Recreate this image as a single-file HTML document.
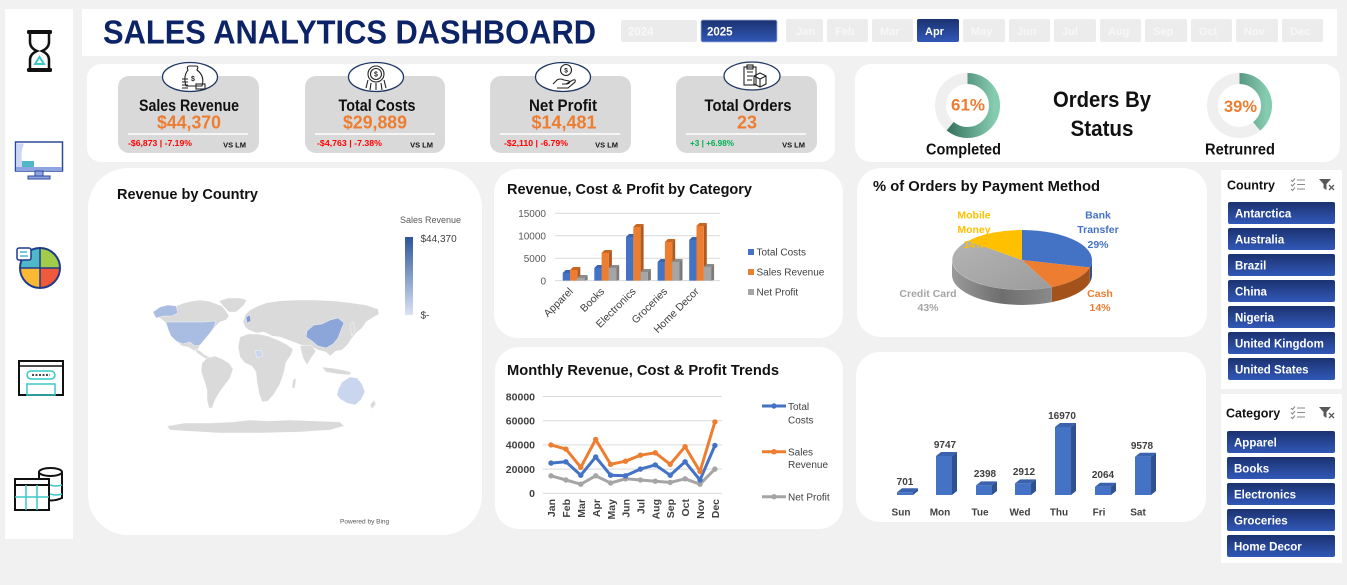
<!DOCTYPE html>
<html><head><meta charset="utf-8"><style>
html,body{margin:0;padding:0;background:#f1f1f1;}
svg{display:block;font-family:"Liberation Sans",Arial,sans-serif;}
</style></head><body>
<svg width="1347" height="585" viewBox="0 0 1347 585" xmlns="http://www.w3.org/2000/svg">
<defs>
<linearGradient id="navy" x1="0" y1="0" x2="0" y2="1"><stop offset="0" stop-color="#1b3270"/><stop offset="1" stop-color="#3158b8"/></linearGradient>
<linearGradient id="dg" x1="0" y1="0" x2="0" y2="1"><stop offset="0" stop-color="#2a6552"/><stop offset="1" stop-color="#86ccb1"/></linearGradient>
<linearGradient id="lg" x1="0" y1="0" x2="0" y2="1"><stop offset="0" stop-color="#2f5597"/><stop offset="1" stop-color="#dae3f3"/></linearGradient>
<linearGradient id="gs" x1="0" y1="0" x2="1" y2="0"><stop offset="0" stop-color="#9a9a9a"/><stop offset="0.5" stop-color="#6e6e6e"/><stop offset="1" stop-color="#8a8a8a"/></linearGradient>
<linearGradient id="gt" x1="0" y1="0" x2="1" y2="1"><stop offset="0" stop-color="#b4b4b4"/><stop offset="1" stop-color="#9c9c9c"/></linearGradient>
</defs>
<rect width="1347" height="585" fill="#f1f1f1"/>

<!-- sidebar -->
<rect x="5" y="9" width="68" height="530" fill="#fff"/>
<!-- hourglass -->
<rect x="27" y="30" width="25" height="4" rx="1.5" fill="#111"/>
<rect x="27" y="68" width="25" height="4" rx="1.5" fill="#111"/>
<path d="M30,34 L30,42 Q30,48 37,51 Q30,54 30,60 L30,68 M49,34 L49,42 Q49,48 42,51 Q49,54 49,60 L49,68" fill="none" stroke="#111" stroke-width="2.5"/>
<path d="M35,64 L39.5,57 L44,64 Z" fill="none" stroke="#3cc8c8" stroke-width="2"/>
<!-- monitor -->
<rect x="15.5" y="142" width="47" height="29" fill="#fff" stroke="#2b4a9b" stroke-width="1.5"/>
<path d="M17,143.5 L24,143.5 Q19,155 24,169.5 L17,169.5 Z" fill="#c9d6f5"/>
<rect x="22" y="161" width="12" height="8" fill="#4fb8c8"/>
<rect x="16" y="167" width="46" height="4" fill="#8fa5e0"/>
<rect x="35" y="171" width="8" height="5" fill="#8fa5e0" stroke="#2b4a9b" stroke-width="1"/>
<rect x="28" y="176" width="22" height="3" fill="#8fa5e0" stroke="#2b4a9b" stroke-width="1"/>
<!-- pie icon -->
<path d="M40,268 L40,248 A20,20 0 0,1 60,268 Z" fill="#a2cc4a"/>
<path d="M40,268 L60,268 A20,20 0 0,1 40,288 Z" fill="#ef5a3c"/>
<path d="M40,268 L40,288 A20,20 0 0,1 20,268 Z" fill="#f9b934"/>
<path d="M40,268 L20,268 A20,20 0 0,1 40,248 Z" fill="#4fb8c8"/>
<circle cx="40" cy="268" r="20" fill="none" stroke="#1f3a8a" stroke-width="2"/>
<path d="M40,248 L40,288 M20,268 L60,268" stroke="#1f3a8a" stroke-width="1.5"/>
<rect x="17" y="248" width="14" height="12" rx="2" fill="#fff" stroke="#1f3a8a" stroke-width="1.5"/>
<path d="M20,252 L27,252 M20,256 L28,256" stroke="#4fb8c8" stroke-width="1.5"/>
<!-- window icon -->
<rect x="19" y="361" width="44" height="34" fill="#fff" stroke="#111" stroke-width="2"/>
<path d="M19,366 L63,366" stroke="#111" stroke-width="1.5"/>
<rect x="27" y="371" width="28" height="8" rx="4" fill="none" stroke="#3cc8c8" stroke-width="1.5"/>
<path d="M32,375 L50,375" stroke="#111" stroke-width="1.5" stroke-dasharray="2,1.5"/>
<rect x="27" y="384" width="28" height="11" fill="none" stroke="#3cc8c8" stroke-width="1.5"/>
<!-- db/table icon -->
<path d="M39,472 L39,498 Q51,503 62,498 L62,472" fill="#fff" stroke="#111" stroke-width="2"/>
<ellipse cx="50.5" cy="472" rx="11.5" ry="4" fill="#fff" stroke="#111" stroke-width="2"/>
<path d="M50,485 Q56,487 62,485 M50,494 Q56,496 62,494" fill="none" stroke="#3cc8c8" stroke-width="1.5"/>
<rect x="15" y="479" width="34" height="31" fill="#fff" stroke="#111" stroke-width="2"/>
<path d="M15,485 L49,485" stroke="#111" stroke-width="2"/>
<path d="M15,497 L49,497 M26,485 L26,510 M37,485 L37,510" stroke="#3cc8c8" stroke-width="1.5"/>

<!-- header -->
<rect x="82" y="9" width="1255" height="47" fill="#fff"/>
<text x="103" y="43.5" font-size="33" font-weight="bold" fill="#0c2467" textLength="493" lengthAdjust="spacingAndGlyphs">SALES ANALYTICS DASHBOARD</text>
<rect x="621" y="20" width="76" height="22" rx="2" fill="#ebebeb"/>
<text x="628" y="35.5" font-size="11.5" font-weight="bold" fill="#f8f8f8">2024</text>
<rect x="701" y="20" width="76" height="22" rx="2" fill="url(#navy)" stroke="#9fb0d6" stroke-width="0.8"/>
<text x="707" y="35.5" font-size="11.5" font-weight="bold" fill="#fff">2025</text>
<g font-size="11" font-weight="bold" fill="#f7f7f7">
<rect x="786" y="19" width="37" height="23" rx="2" fill="#ececec"/><text x="796" y="35">Jan</text>
<rect x="827" y="19" width="41" height="23" rx="2" fill="#ececec"/><text x="835" y="35">Feb</text>
<rect x="872" y="19" width="41" height="23" rx="2" fill="#ececec"/><text x="880" y="35">Mar</text>
<rect x="917" y="19" width="42" height="23" rx="2" fill="url(#navy)"/><text x="925" y="35" fill="#fff">Apr</text>
<rect x="963" y="19" width="42" height="23" rx="2" fill="#ececec"/><text x="971" y="35">May</text>
<rect x="1009" y="19" width="41" height="23" rx="2" fill="#ececec"/><text x="1017" y="35">Jun</text>
<rect x="1054" y="19" width="42" height="23" rx="2" fill="#ececec"/><text x="1062" y="35">Jul</text>
<rect x="1100" y="19" width="41" height="23" rx="2" fill="#ececec"/><text x="1108" y="35">Aug</text>
<rect x="1145" y="19" width="42" height="23" rx="2" fill="#ececec"/><text x="1153" y="35">Sep</text>
<rect x="1191" y="19" width="41" height="23" rx="2" fill="#ececec"/><text x="1199" y="35">Oct</text>
<rect x="1236" y="19" width="42" height="23" rx="2" fill="#ececec"/><text x="1244" y="35">Nov</text>
<rect x="1282" y="19" width="41" height="23" rx="2" fill="#ececec"/><text x="1290" y="35">Dec</text>
</g>

<!-- KPI panel -->
<rect x="87" y="64" width="748" height="98" rx="14" fill="#fff"/>
<g>
<rect x="118" y="76" width="141" height="77" rx="11" fill="#d9d9d9"/>
<rect x="305" y="76" width="140" height="77" rx="11" fill="#d9d9d9"/>
<rect x="490" y="76" width="141" height="77" rx="11" fill="#d9d9d9"/>
<rect x="676" y="76" width="141" height="77" rx="11" fill="#d9d9d9"/>
<path d="M128,134 L248,134 M315,134 L435,134 M500,134 L620,134 M686,134 L806,134" stroke="#fff" stroke-width="1.5"/>
</g>
<g font-weight="bold" text-anchor="middle">
<text x="189" y="111" font-size="17" fill="#111" textLength="100" lengthAdjust="spacingAndGlyphs">Sales Revenue</text>
<text x="189" y="128.5" font-size="18" fill="#ed7d31" textLength="64" lengthAdjust="spacingAndGlyphs">$44,370</text>
<text x="377" y="111" font-size="17" fill="#111" textLength="77" lengthAdjust="spacingAndGlyphs">Total Costs</text>
<text x="375" y="128.5" font-size="18" fill="#ed7d31" textLength="64" lengthAdjust="spacingAndGlyphs">$29,889</text>
<text x="563" y="111" font-size="17" fill="#111" textLength="68" lengthAdjust="spacingAndGlyphs">Net Profit</text>
<text x="564" y="128.5" font-size="18" fill="#ed7d31" textLength="65" lengthAdjust="spacingAndGlyphs">$14,481</text>
<text x="748" y="111" font-size="17" fill="#111" textLength="87" lengthAdjust="spacingAndGlyphs">Total Orders</text>
<text x="747" y="128.5" font-size="18" fill="#ed7d31" textLength="20" lengthAdjust="spacingAndGlyphs">23</text>
</g>
<g font-weight="bold" font-size="8.5">
<text x="128" y="146" fill="#ff0000" textLength="64" lengthAdjust="spacingAndGlyphs">-$6,873 | -7.19%</text>
<text x="317" y="146" fill="#ff0000" textLength="65" lengthAdjust="spacingAndGlyphs">-$4,763 | -7.38%</text>
<text x="504" y="146" fill="#ff0000" textLength="64" lengthAdjust="spacingAndGlyphs">-$2,110 | -6.79%</text>
<text x="690" y="146" fill="#00b050" textLength="44" lengthAdjust="spacingAndGlyphs">+3 | +6.98%</text>
</g>
<g font-weight="bold" font-size="7.5" fill="#111" text-anchor="end">
<text x="246" y="147.5">VS LM</text><text x="433" y="147.5">VS LM</text><text x="618" y="147.5">VS LM</text><text x="805" y="147.5">VS LM</text>
</g>
<!-- KPI icons -->
<g fill="#fff" stroke="#1f3864" stroke-width="1.3">
<ellipse cx="190" cy="77" rx="27.5" ry="14.5"/>
<ellipse cx="376" cy="77" rx="27.5" ry="14.5"/>
<ellipse cx="563" cy="77" rx="27.5" ry="14.5"/>
<ellipse cx="752" cy="76" rx="28" ry="14"/>
</g>
<g fill="none" stroke="#222" stroke-width="1.1">
<path d="M188,70 Q186,66 190,66 L196,66 Q199,66 197,70 Q205,76 202,86 L186,86 Q183,76 188,70 Z"/>
<path d="M182,79 L188,79 M182,82 L188,82 M182,85 L188,85 M182,88 L188,88"/>
<rect x="196" y="84" width="9" height="5"/>
<circle cx="376" cy="74" r="8"/><circle cx="376" cy="74" r="5.5"/>
<path d="M368,80 L366,88 M371,83 L370,90 M376,83 L376,90 M381,83 L382,90 M384,80 L386,88"/>
<circle cx="566" cy="70" r="5.5"/>
<path d="M553,84 L557,80 Q560,78 564,80 L569,81 Q571,83 567,84 L562,84 M566,84 L573,80 Q576,79 575,82 L568,88 L557,88"/>
<rect x="744" y="67" width="12" height="18"/><rect x="747" y="65" width="6" height="4"/>
<path d="M747,72 L753,72 M747,76 L753,76 M747,80 L752,80"/>
<path d="M754,76 L760,73 L766,76 L766,84 L760,87 L754,84 Z M754,76 L760,79 L766,76 M760,79 L760,87"/>
</g>
<g font-size="7" font-weight="bold" fill="#222" text-anchor="middle">
<text x="193" y="81">$</text><text x="376" y="76.5">$</text><text x="566" y="72.5" font-size="6.5">$</text>
</g>

<!-- Orders by status -->
<rect x="855" y="64" width="485" height="98" rx="16" fill="#fff"/>
<circle cx="967.5" cy="105.5" r="27" fill="none" stroke="#efefef" stroke-width="11"/>
<circle cx="967.5" cy="105.5" r="27" fill="none" stroke="url(#dg)" stroke-width="11" stroke-dasharray="103.5 200" transform="rotate(-90 967.5 105.5)"/>
<circle cx="1239.5" cy="105.5" r="27" fill="none" stroke="#efefef" stroke-width="11"/>
<circle cx="1239.5" cy="105.5" r="27" fill="none" stroke="url(#dg)" stroke-width="11" stroke-dasharray="66.2 200" transform="rotate(-90 1239.5 105.5)"/>
<g font-weight="bold" text-anchor="middle">
<text x="968" y="110.7" font-size="17" fill="#ed7d31" textLength="34" lengthAdjust="spacingAndGlyphs">61%</text>
<text x="1240.5" y="112" font-size="17" fill="#ed7d31" textLength="33" lengthAdjust="spacingAndGlyphs">39%</text>
<text x="963.5" y="154.5" font-size="15.5" fill="#111" textLength="75" lengthAdjust="spacingAndGlyphs">Completed</text>
<text x="1240" y="154.5" font-size="15.5" fill="#111" textLength="70" lengthAdjust="spacingAndGlyphs">Retrunred</text>
<text x="1102" y="107" font-size="22" fill="#111" textLength="98" lengthAdjust="spacingAndGlyphs">Orders By</text>
<text x="1102" y="136" font-size="22" fill="#111" textLength="63" lengthAdjust="spacingAndGlyphs">Status</text>
</g>

<!-- Revenue by country -->
<rect x="88" y="168" width="394" height="367" rx="40" fill="#fff"/>
<text x="117" y="199" font-size="14.5" font-weight="bold" fill="#111" textLength="141" lengthAdjust="spacingAndGlyphs">Revenue by Country</text>
<text x="400" y="223" font-size="9" fill="#595959">Sales Revenue</text>
<rect x="405" y="237" width="8" height="78" fill="url(#lg)"/>
<text x="420.5" y="242" font-size="10" fill="#404040">$44,370</text>
<text x="420.5" y="318.5" font-size="10" fill="#404040">$-</text>
<text x="340" y="523.5" font-size="6.5" fill="#595959">Powered by Bing</text>
<g fill="#dadada" stroke="#fff" stroke-width="0.4">
<path d="M153,312 L160,307 L168,305 L176,306 L184,303 L192,301 L200,300 L208,301 L214,303 L222,306 L226,311 L229,316 L226,320 L220,322 L216,326 L212,331 L207,336 L203,341 L199,347 L197,352 L193,350 L188,347 L182,346 L176,341 L171,336 L168,329 L165,322 L160,318 L155,317 Z"/>
<path d="M219,301 L228,298 L240,298 L247,300 L243,306 L236,312 L229,312 L224,307 Z"/>
<path d="M195,349 L200,351 L205,355 L210,357 L208,360 L203,357 L197,353 Z"/>
<path d="M207,358 L215,356 L222,359 L229,363 L233,369 L230,378 L224,386 L219,393 L215,400 L212,408 L209,408 L207,400 L207,390 L204,380 L201,371 L202,363 Z"/>
<path d="M243,322 L245,315 L250,310 L258,306 L266,303 L278,301 L295,300 L315,300 L335,301 L352,303 L366,305 L378,309 L379,314 L372,318 L366,322 L362,328 L356,333 L352,338 L348,344 L342,350 L336,351 L330,356 L326,352 L318,350 L312,347 L304,346 L296,343 L288,340 L280,337 L272,336 L264,332 L256,333 L249,330 L245,327 Z"/>
<path d="M240,337 L248,334 L258,334 L268,336 L278,340 L286,344 L293,349 L291,355 L286,362 L284,372 L280,384 L274,394 L268,401 L262,402 L259,393 L257,382 L256,372 L252,366 L245,363 L240,357 L238,347 Z"/>
<path d="M300,346 L311,345 L316,351 L311,358 L307,365 L303,358 Z"/>
<path d="M322,367 L332,368 L343,370 L351,372 L350,375 L338,374 L326,372 Z"/>
<path d="M350,325 L353,322 L355,330 L352,336 Z"/>
<path d="M293,380 L296,378 L295,388 L292,388 Z"/>
<path d="M370,405 L374,400 L376,404 L372,409 Z"/>
<path d="M167,426 L185,423 L210,423 L232,422 L250,420 L268,421 L290,420 L316,421 L340,422 L344,426 L330,430 L300,432 L260,433 L220,433 L185,431 L170,430 Z"/>
</g>
<g stroke="#fff" stroke-width="0.4">
<path fill="#a9bde3" d="M166,322 L184,322 L204,322 L216,321 L214,327 L210,333 L205,339 L200,345 L195,346 L190,342 L183,344 L176,341 L171,336 L168,329 Z"/>
<path fill="#a9bde3" d="M153,312 L160,307 L168,305 L176,306 L178,313 L172,316 L163,316 L156,318 Z"/>
<path fill="#8ca6da" d="M307,331 L314,325 L322,324 L330,320 L338,318 L344,323 L341,330 L338,338 L333,344 L326,348 L318,346 L312,341 L306,337 Z"/>
<path fill="#c9d6ee" d="M338,390 L342,382 L350,377 L357,378 L362,384 L365,392 L361,400 L355,405 L347,403 L340,399 L337,395 Z"/>
<path fill="#c9d6ee" d="M255,351 L261,350 L263,356 L257,358 Z"/>
<path fill="#7f9bd3" d="M246,317 L250,315 L251,321 L247,323 Z"/>
</g>

<!-- Category chart -->
<rect x="494" y="169" width="349" height="169" rx="24" fill="#fff"/>
<text x="507" y="194" font-size="14.5" font-weight="bold" fill="#111" textLength="245" lengthAdjust="spacingAndGlyphs">Revenue, Cost &amp; Profit by Category</text>
<g stroke="#d9d9d9" stroke-width="1"><path d="M555,213.3 L720,213.3 M555,235.8 L720,235.8 M555,258.2 L720,258.2 M555,280.6 L720,280.6"/></g>
<g font-size="10" fill="#595959" text-anchor="end">
<text x="546" y="217">15000</text><text x="546" y="239.5">10000</text><text x="546" y="262">5000</text><text x="546" y="284.3">0</text>
</g>
<g id="catbars"></g>
<g font-size="10.5" fill="#404040" text-anchor="end">
<text transform="translate(573.5,292) rotate(-45)">Apparel</text>
<text transform="translate(605,292) rotate(-45)">Books</text>
<text transform="translate(636.5,292) rotate(-45)">Electronics</text>
<text transform="translate(668,292) rotate(-45)">Groceries</text>
<text transform="translate(699.5,292) rotate(-45)">Home Decor</text>
</g>
<rect x="748" y="249" width="6" height="6" fill="#4472c4"/>
<rect x="748" y="269" width="6" height="6" fill="#ed7d31"/>
<rect x="748" y="289" width="6" height="6" fill="#a5a5a5"/>
<g font-size="10" fill="#404040">
<text x="756.5" y="255.5">Total Costs</text><text x="756.5" y="275.5">Sales Revenue</text><text x="756.5" y="295.5">Net Profit</text>
</g>

<!-- Monthly trends -->
<rect x="495" y="347" width="348" height="182" rx="24" fill="#fff"/>
<text x="507" y="375" font-size="14.5" font-weight="bold" fill="#111" textLength="272" lengthAdjust="spacingAndGlyphs">Monthly Revenue, Cost &amp; Profit Trends</text>
<g stroke="#d9d9d9" stroke-width="1"><path d="M543,396.5 L722,396.5 M543,420.7 L722,420.7 M543,444.9 L722,444.9 M543,469.1 L722,469.1 M543,493.3 L722,493.3"/></g>
<g font-size="10.5" font-weight="bold" fill="#404040" text-anchor="end">
<text x="535" y="400.3">80000</text><text x="535" y="424.5">60000</text><text x="535" y="448.7">40000</text><text x="535" y="472.9">20000</text><text x="535" y="497.1">0</text>
</g>
<g font-size="10.5" font-weight="bold" fill="#404040" text-anchor="end">
<text transform="translate(555,499) rotate(-90)">Jan</text>
<text transform="translate(570,499) rotate(-90)">Feb</text>
<text transform="translate(585,499) rotate(-90)">Mar</text>
<text transform="translate(600,499) rotate(-90)">Apr</text>
<text transform="translate(615,499) rotate(-90)">May</text>
<text transform="translate(629.5,499) rotate(-90)">Jun</text>
<text transform="translate(644.5,499) rotate(-90)">Jul</text>
<text transform="translate(659.5,499) rotate(-90)">Aug</text>
<text transform="translate(674,499) rotate(-90)">Sep</text>
<text transform="translate(689,499) rotate(-90)">Oct</text>
<text transform="translate(704,499) rotate(-90)">Nov</text>
<text transform="translate(719,499) rotate(-90)">Dec</text>
</g>
<polyline fill="none" stroke="#a5a5a5" stroke-width="3" stroke-linejoin="round" points="551,475.8 565.9,480 580.8,484.2 595.7,475.8 610.6,483 625.5,478.8 640.4,480 655.3,481.2 670.2,482.4 685.1,478.8 700,484.2 714.9,469.1"/>
<polyline fill="none" stroke="#4472c4" stroke-width="3" stroke-linejoin="round" points="551,463.1 565.9,461.8 580.8,475.2 595.7,457 610.6,475.2 625.5,475.8 640.4,469.1 655.3,464.9 670.2,475.2 685.1,461.8 700,480 714.9,445.5"/>
<polyline fill="none" stroke="#ed7d31" stroke-width="3" stroke-linejoin="round" points="551,444.9 565.9,449.1 580.8,467.3 595.7,439.5 610.6,464.3 625.5,461.2 640.4,455.2 655.3,452.8 670.2,464.3 685.1,446.7 700,471.5 714.9,421.9"/>
<g fill="#a5a5a5"><circle cx="551" cy="475.8" r="2.7"/><circle cx="565.9" cy="480" r="2.7"/><circle cx="580.8" cy="484.2" r="2.7"/><circle cx="595.7" cy="475.8" r="2.7"/><circle cx="610.6" cy="483" r="2.7"/><circle cx="625.5" cy="478.8" r="2.7"/><circle cx="640.4" cy="480" r="2.7"/><circle cx="655.3" cy="481.2" r="2.7"/><circle cx="670.2" cy="482.4" r="2.7"/><circle cx="685.1" cy="478.8" r="2.7"/><circle cx="700" cy="484.2" r="2.7"/><circle cx="714.9" cy="469.1" r="2.7"/></g>
<g fill="#4472c4"><circle cx="551" cy="463.1" r="2.7"/><circle cx="565.9" cy="461.8" r="2.7"/><circle cx="580.8" cy="475.2" r="2.7"/><circle cx="595.7" cy="457" r="2.7"/><circle cx="610.6" cy="475.2" r="2.7"/><circle cx="625.5" cy="475.8" r="2.7"/><circle cx="640.4" cy="469.1" r="2.7"/><circle cx="655.3" cy="464.9" r="2.7"/><circle cx="670.2" cy="475.2" r="2.7"/><circle cx="685.1" cy="461.8" r="2.7"/><circle cx="700" cy="480" r="2.7"/><circle cx="714.9" cy="445.5" r="2.7"/></g>
<g fill="#ed7d31"><circle cx="551" cy="444.9" r="2.7"/><circle cx="565.9" cy="449.1" r="2.7"/><circle cx="580.8" cy="467.3" r="2.7"/><circle cx="595.7" cy="439.5" r="2.7"/><circle cx="610.6" cy="464.3" r="2.7"/><circle cx="625.5" cy="461.2" r="2.7"/><circle cx="640.4" cy="455.2" r="2.7"/><circle cx="655.3" cy="452.8" r="2.7"/><circle cx="670.2" cy="464.3" r="2.7"/><circle cx="685.1" cy="446.7" r="2.7"/><circle cx="700" cy="471.5" r="2.7"/><circle cx="714.9" cy="421.9" r="2.7"/></g>
<path d="M762,406 L786,406" stroke="#4472c4" stroke-width="3"/><circle cx="774" cy="406" r="2.7" fill="#4472c4"/>
<path d="M762,451.7 L786,451.7" stroke="#ed7d31" stroke-width="3"/><circle cx="774" cy="451.7" r="2.7" fill="#ed7d31"/>
<path d="M762,496.7 L786,496.7" stroke="#a5a5a5" stroke-width="3"/><circle cx="774" cy="496.7" r="2.7" fill="#a5a5a5"/>
<g font-size="10" fill="#404040">
<text x="788" y="410">Total</text><text x="788" y="423.5">Costs</text>
<text x="788" y="455.5">Sales</text><text x="788" y="468">Revenue</text>
<text x="788" y="500.5">Net Profit</text>
</g>

<!-- Payment pie -->
<rect x="857" y="168" width="350" height="169" rx="24" fill="#fff"/>
<text x="873" y="191" font-size="14.5" font-weight="bold" fill="#111" textLength="227" lengthAdjust="spacingAndGlyphs">% of Orders by Payment Method</text>
<path d="M1092,260 A70,30 0 0,1 1089.8,267.5 L1089.8,282.5 A70,30 0 0,0 1092,275 Z" fill="#2f528f"/>
<path d="M1089.8,267.5 A70,30 0 0,1 1051.8,287.1 L1051.8,302.1 A70,30 0 0,0 1089.8,282.5 Z" fill="#a4521c"/>
<path d="M1051.8,287.1 A70,30 0 0,1 952,260 L952,275 A70,30 0 0,0 1051.8,302.1 Z" fill="url(#gs)"/>
<path d="M1022,260 L1022,230 A70,30 0 0,1 1089.8,267.5 Z" fill="#4472c4"/>
<path d="M1022,260 L1089.8,267.5 A70,30 0 0,1 1051.8,287.1 Z" fill="#ed7d31"/>
<path d="M1022,260 L1051.8,287.1 A70,30 0 0,1 968.1,240.9 Z" fill="url(#gt)"/>
<path d="M1022,260 L968.1,240.9 A70,30 0 0,1 1022,230 Z" fill="#ffc000"/>
<g font-size="10.5" font-weight="bold" text-anchor="middle">
<g fill="#ffc000"><text x="974" y="218.5">Mobile</text><text x="974" y="233">Money</text><text x="974" y="248">14%</text></g>
<g fill="#4472c4"><text x="1098" y="218.5">Bank</text><text x="1098" y="233">Transfer</text><text x="1098" y="248">29%</text></g>
<g fill="#ed7d31"><text x="1100" y="297">Cash</text><text x="1100" y="311">14%</text></g>
<g fill="#a5a5a5"><text x="928" y="297">Credit Card</text><text x="928" y="311">43%</text></g>
</g>

<!-- Weekday -->
<rect x="856" y="352" width="350" height="170" rx="24" fill="#fff"/>
<g id="wk"></g>

<!-- Slicers -->
<rect x="1221" y="170" width="121" height="219" fill="#fff"/>
<rect x="1221" y="394" width="121" height="169" fill="#fff"/>
<text x="1227" y="189.5" font-size="12.5" font-weight="bold" fill="#111">Country</text>
<text x="1226" y="417.5" font-size="12.5" font-weight="bold" fill="#111">Category</text>
<g stroke="#8a8a8a" stroke-width="1.1" fill="none">
<path d="M1297,180 L1305,180 M1297,184.5 L1305,184.5 M1297,189 L1305,189 M1291,180 L1292.5,181.5 L1295,178.5 M1291,184.5 L1292.5,186 L1295,183 M1291,189 L1292.5,190.5 L1295,187.5"/>
<path d="M1297,408 L1305,408 M1297,412.5 L1305,412.5 M1297,417 L1305,417 M1291,408 L1292.5,409.5 L1295,406.5 M1291,412.5 L1292.5,414 L1295,411 M1291,417 L1292.5,418.5 L1295,415.5"/>
</g>
<path d="M1319,179 L1331,179 L1326.5,184 L1326.5,190 L1323.5,188 L1323.5,184 Z M1319,407 L1331,407 L1326.5,412 L1326.5,418 L1323.5,416 L1323.5,412 Z" fill="#595959"/>
<path d="M1329,185 L1334,190 M1334,185 L1329,190 M1329,413 L1334,418 M1334,413 L1329,418" stroke="#595959" stroke-width="1.3"/>
<g>
<rect x="1228" y="202" width="107" height="22" rx="2" fill="url(#navy)"/>
<rect x="1228" y="228" width="107" height="22" rx="2" fill="url(#navy)"/>
<rect x="1228" y="254" width="107" height="22" rx="2" fill="url(#navy)"/>
<rect x="1228" y="280" width="107" height="22" rx="2" fill="url(#navy)"/>
<rect x="1228" y="306" width="107" height="22" rx="2" fill="url(#navy)"/>
<rect x="1228" y="332" width="107" height="22" rx="2" fill="url(#navy)"/>
<rect x="1228" y="358" width="107" height="22" rx="2" fill="url(#navy)"/>
<rect x="1227" y="431" width="108" height="22" rx="2" fill="url(#navy)"/>
<rect x="1227" y="457" width="108" height="22" rx="2" fill="url(#navy)"/>
<rect x="1227" y="483" width="108" height="22" rx="2" fill="url(#navy)"/>
<rect x="1227" y="509" width="108" height="22" rx="2" fill="url(#navy)"/>
<rect x="1227" y="535" width="108" height="22" rx="2" fill="url(#navy)"/>
</g>
<g font-size="11.5" font-weight="bold" fill="#fff">
<text x="1235" y="217.5">Antarctica</text>
<text x="1235" y="243.5">Australia</text>
<text x="1235" y="269.5">Brazil</text>
<text x="1235" y="295.5">China</text>
<text x="1235" y="321.5">Nigeria</text>
<text x="1235" y="347.5">United Kingdom</text>
<text x="1235" y="373.5">United States</text>
<text x="1234" y="446.5">Apparel</text>
<text x="1234" y="472.5">Books</text>
<text x="1234" y="498.5">Electronics</text>
<text x="1234" y="524.5">Groceries</text>
<text x="1234" y="550.5">Home Decor</text>
</g>

<!-- Category bars (3D) -->
<g>
<!-- Apparel -->
<path d="M562.7,273 h7.3 l3,-3 h-7.3 z" fill="#3a64b0"/><path d="M570,273 l3,-3 v10 l-3,0.6 z" fill="#2f528f"/><rect x="562.7" y="273" width="7.3" height="7.6" fill="#4472c4"/>
<path d="M570,270 h7.3 l3,-3 h-7.3 z" fill="#c9661f"/><path d="M577.3,270 l3,-3 v13 l-3,0.6 z" fill="#ae5a21"/><rect x="570" y="270" width="7.3" height="10.6" fill="#ed7d31"/>
<path d="M577.3,278 h7.3 l3,-3 h-7.3 z" fill="#8c8c8c"/><path d="M584.6,278 l3,-3 v5 l-3,0.6 z" fill="#7b7b7b"/><rect x="577.3" y="278" width="7.3" height="2.6" fill="#a5a5a5"/>
<!-- Books -->
<path d="M594.3,268 h7.3 l3,-3 h-7.3 z" fill="#3a64b0"/><path d="M601.6,268 l3,-3 v15 l-3,0.6 z" fill="#2f528f"/><rect x="594.3" y="268" width="7.3" height="12.6" fill="#4472c4"/>
<path d="M601.6,253 h7.3 l3,-3 h-7.3 z" fill="#c9661f"/><path d="M608.9,253 l3,-3 v30 l-3,0.6 z" fill="#ae5a21"/><rect x="601.6" y="253" width="7.3" height="27.6" fill="#ed7d31"/>
<path d="M608.9,268 h7.3 l3,-3 h-7.3 z" fill="#8c8c8c"/><path d="M616.2,268 l3,-3 v15 l-3,0.6 z" fill="#7b7b7b"/><rect x="608.9" y="268" width="7.3" height="12.6" fill="#a5a5a5"/>
<!-- Electronics -->
<path d="M626,237 h7.3 l3,-3 h-7.3 z" fill="#3a64b0"/><path d="M633.3,237 l3,-3 v46 l-3,0.6 z" fill="#2f528f"/><rect x="626" y="237" width="7.3" height="43.6" fill="#4472c4"/>
<path d="M633.3,227 h7.3 l3,-3 h-7.3 z" fill="#c9661f"/><path d="M640.6,227 l3,-3 v56 l-3,0.6 z" fill="#ae5a21"/><rect x="633.3" y="227" width="7.3" height="53.6" fill="#ed7d31"/>
<path d="M640.6,272 h7.3 l3,-3 h-7.3 z" fill="#8c8c8c"/><path d="M647.9,272 l3,-3 v11 l-3,0.6 z" fill="#7b7b7b"/><rect x="640.6" y="272" width="7.3" height="8.6" fill="#a5a5a5"/>
<!-- Groceries -->
<path d="M657.6,262 h7.3 l3,-3 h-7.3 z" fill="#3a64b0"/><path d="M664.9,262 l3,-3 v21 l-3,0.6 z" fill="#2f528f"/><rect x="657.6" y="262" width="7.3" height="18.6" fill="#4472c4"/>
<path d="M664.9,242 h7.3 l3,-3 h-7.3 z" fill="#c9661f"/><path d="M672.2,242 l3,-3 v41 l-3,0.6 z" fill="#ae5a21"/><rect x="664.9" y="242" width="7.3" height="38.6" fill="#ed7d31"/>
<path d="M672.2,262 h7.3 l3,-3 h-7.3 z" fill="#8c8c8c"/><path d="M679.5,262 l3,-3 v21 l-3,0.6 z" fill="#7b7b7b"/><rect x="672.2" y="262" width="7.3" height="18.6" fill="#a5a5a5"/>
<!-- Home Decor -->
<path d="M689.2,240 h7.3 l3,-3 h-7.3 z" fill="#3a64b0"/><path d="M696.5,240 l3,-3 v43 l-3,0.6 z" fill="#2f528f"/><rect x="689.2" y="240" width="7.3" height="40.6" fill="#4472c4"/>
<path d="M696.5,226 h7.3 l3,-3 h-7.3 z" fill="#c9661f"/><path d="M703.8,226 l3,-3 v57 l-3,0.6 z" fill="#ae5a21"/><rect x="696.5" y="226" width="7.3" height="54.6" fill="#ed7d31"/>
<path d="M703.8,267 h7.3 l3,-3 h-7.3 z" fill="#8c8c8c"/><path d="M711.1,267 l3,-3 v16 l-3,0.6 z" fill="#7b7b7b"/><rect x="703.8" y="267" width="7.3" height="13.6" fill="#a5a5a5"/>
</g>

<!-- Weekday bars (3D) -->
<g>
<path d="M897,492.2 l5,-4 h16 l-5,4 z" fill="#3a62ad"/><path d="M913,492.2 l5,-4 v2.8 l-5,4 z" fill="#2f528f"/><rect x="897" y="492.2" width="16" height="2.8" fill="#4472c4"/>
<path d="M936,456 l5,-4 h16 l-5,4 z" fill="#3a62ad"/><path d="M952,456 l5,-4 v39 l-5,4 z" fill="#2f528f"/><rect x="936" y="456" width="16" height="39" fill="#4472c4"/>
<path d="M976,485.4 l5,-4 h16 l-5,4 z" fill="#3a62ad"/><path d="M992,485.4 l5,-4 v9.6 l-5,4 z" fill="#2f528f"/><rect x="976" y="485.4" width="16" height="9.6" fill="#4472c4"/>
<path d="M1015,483.4 l5,-4 h16 l-5,4 z" fill="#3a62ad"/><path d="M1031,483.4 l5,-4 v11.6 l-5,4 z" fill="#2f528f"/><rect x="1015" y="483.4" width="16" height="11.6" fill="#4472c4"/>
<path d="M1055,427 l5,-4 h16 l-5,4 z" fill="#3a62ad"/><path d="M1071,427 l5,-4 v68 l-5,4 z" fill="#2f528f"/><rect x="1055" y="427" width="16" height="68" fill="#4472c4"/>
<path d="M1095,486.7 l5,-4 h16 l-5,4 z" fill="#3a62ad"/><path d="M1111,486.7 l5,-4 v8.3 l-5,4 z" fill="#2f528f"/><rect x="1095" y="486.7" width="16" height="8.3" fill="#4472c4"/>
<path d="M1135,456.7 l5,-4 h16 l-5,4 z" fill="#3a62ad"/><path d="M1151,456.7 l5,-4 v38.3 l-5,4 z" fill="#2f528f"/><rect x="1135" y="456.7" width="16" height="38.3" fill="#4472c4"/>
</g>
<g font-size="10" font-weight="bold" fill="#404040" text-anchor="middle">
<text x="905" y="485">701</text>
<text x="945" y="448">9747</text>
<text x="985" y="477">2398</text>
<text x="1024" y="475">2912</text>
<text x="1062" y="419">16970</text>
<text x="1103" y="478">2064</text>
<text x="1142" y="449">9578</text>
<text x="901" y="515.5">Sun</text>
<text x="940" y="515.5">Mon</text>
<text x="980" y="515.5">Tue</text>
<text x="1020" y="515.5">Wed</text>
<text x="1059" y="515.5">Thu</text>
<text x="1099" y="515.5">Fri</text>
<text x="1138" y="515.5">Sat</text>
</g>
</svg>
</body></html>
